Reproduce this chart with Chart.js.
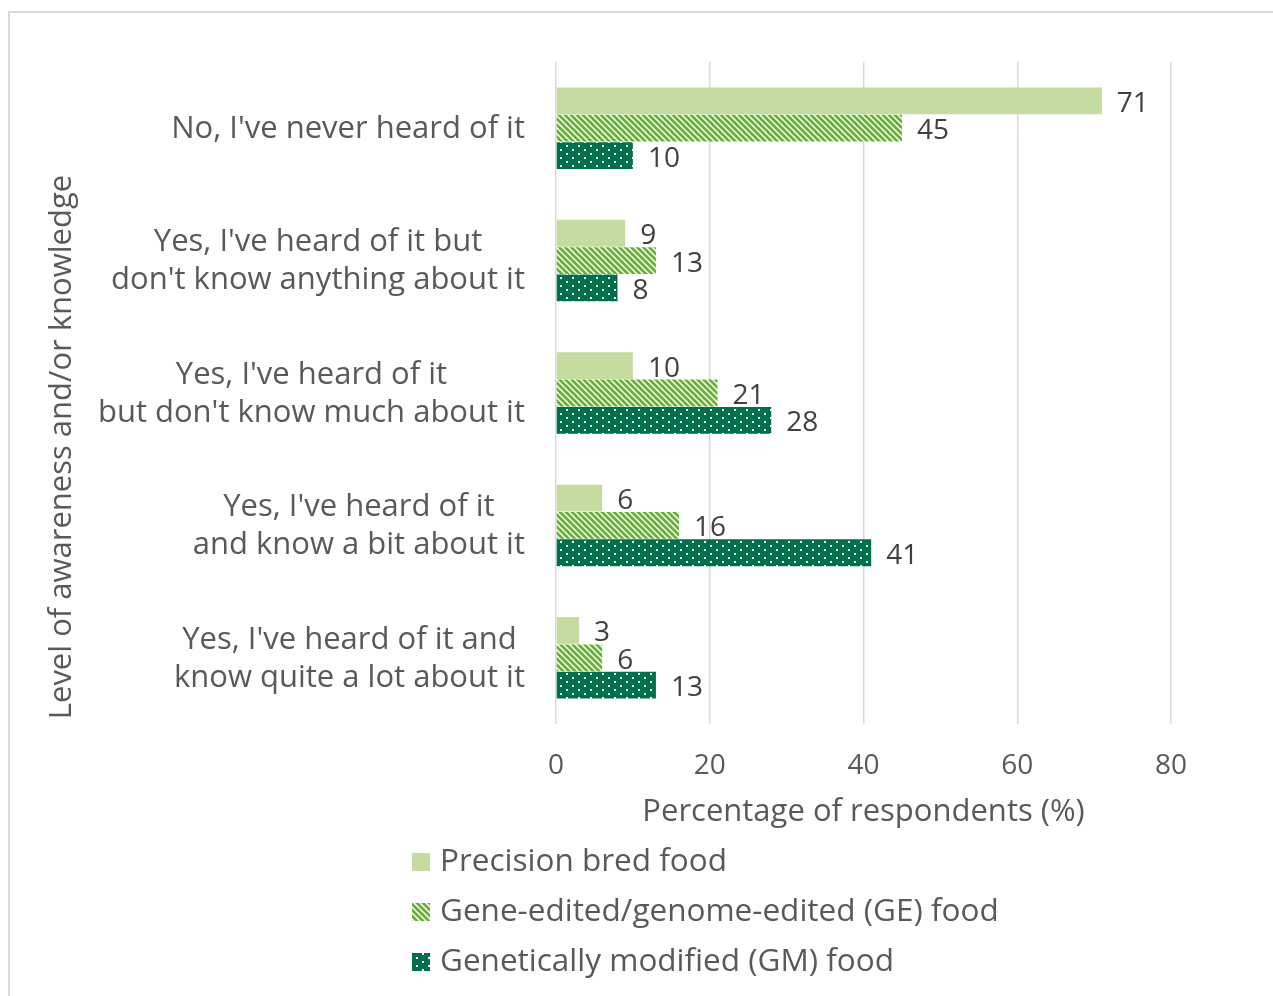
<!DOCTYPE html>
<html>
<head>
<meta charset="utf-8">
<script src="https://cdn.jsdelivr.net/npm/chart.js@4"></script>
<style>
  html, body { margin: 0; padding: 0; background: #fff; overflow: hidden; }
  .frame { position: absolute; left: 8px; top: 11px; width: 1280px; height: 1000px;
           border-top: 2px solid #d9d9d9; border-left: 2px solid #d9d9d9; }
  canvas { position: absolute; left: 0; top: 0; }
</style>
</head>
<body>
<div class="frame"></div>
<canvas id="awareness" width="1273" height="996"></canvas>
<script>
// data
const categories = [
  ["No, I've never heard of it"],
  ["Yes, I've heard of it but", "don't know anything about it"],
  ["Yes, I've heard of it", "but don't know much about it"],
  ["Yes, I've heard of it", "and know a bit about it"],
  ["Yes, I've heard of it and", "know quite a lot about it"],
];
const seriesNames = [
  "Precision bred food",
  "Gene-edited/genome-edited (GE) food",
  "Genetically modified (GM) food",
];
const precisionBred = [71, 9, 10, 6, 3];
const geneEdited = [45, 13, 21, 16, 6];
const genModified = [10, 8, 28, 41, 13];
const xTicks = [0, 20, 40, 60, 80];

const FONT = "'Open Sans', sans-serif";
const TEXT = "#595959";

// Patterns
function hatchPattern() {
  const c = document.createElement("canvas");
  c.width = 6; c.height = 6;
  const g = c.getContext("2d");
  g.fillStyle = "#ffffff";
  g.fillRect(0, 0, 6, 6);
  g.strokeStyle = "#66b032";
  g.lineWidth = 2.7;
  g.beginPath();
  g.moveTo(-3, -3); g.lineTo(9, 9);
  g.moveTo(-3, 3); g.lineTo(3, 9);
  g.moveTo(3, -3); g.lineTo(9, 3);
  g.stroke();
  return g.createPattern(c, "repeat");
}
function dotPattern() {
  const c = document.createElement("canvas");
  c.width = 12; c.height = 8;
  const g = c.getContext("2d");
  g.fillStyle = "#00704a";
  g.fillRect(0, 0, 12, 8);
  g.fillStyle = "#ffffff";
  g.fillRect(2, 1, 2, 2);
  g.fillRect(8, 5, 2, 2);
  return g.createPattern(c, "repeat");
}
const fills = ["#c5dca0", hatchPattern(), dotPattern()];

// Bar labels, category labels, y title, legend
const extras = {
  id: "extras",
  afterDatasetsDraw(chart) {
    const ctx = chart.ctx;
    ctx.save();
    ctx.fillStyle = "#404040";
    ctx.font = "28px " + FONT;
    ctx.textAlign = "left";
    ctx.textBaseline = "middle";
    chart.data.datasets.forEach((ds, i) => {
      chart.getDatasetMeta(i).data.forEach((bar, j) => {
        ctx.fillText(ds.data[j], bar.x + 15, bar.y + 3);
      });
    });
    ctx.restore();
  },
  afterDraw(chart) {
    const ctx = chart.ctx;
    const y = chart.scales.y;
    ctx.save();
    ctx.fillStyle = TEXT;
    ctx.font = "31px " + FONT;
    ctx.textBaseline = "middle";
    ctx.textAlign = "center";
    const right = chart.chartArea.left - 31;
    const lh = 38;
    categories.forEach((lines, i) => {
      const cy = y.getPixelForTick(i) + 1;
      const w = Math.max(...lines.map((l) => ctx.measureText(l).width));
      const cx = right - w / 2;
      lines.forEach((l, k) => {
        ctx.fillText(l, cx, cy + (k - (lines.length - 1) / 2) * lh);
      });
    });

    // y axis title
    ctx.save();
    ctx.translate(62, 447);
    ctx.rotate(-Math.PI / 2);
    ctx.font = "31px " + FONT;
    ctx.fillText("Level of awareness and/or knowledge", 0, 0);
    ctx.restore();

    // legend
    ctx.textAlign = "left";
    ctx.font = "31.5px " + FONT;
    seriesNames.forEach((name, i) => {
      const ly = 862 + i * 50;
      ctx.fillStyle = fills[i];
      ctx.fillRect(412, ly - 9, 18, 18);
      ctx.fillStyle = TEXT;
      ctx.fillText(name, 440, ly);
    });
    ctx.restore();
  },
};

const ctx = document.getElementById("awareness").getContext("2d");
const chart = new Chart(ctx, {
  type: "bar",
  data: {
    labels: categories,
    datasets: [
      { label: seriesNames[0], data: precisionBred, backgroundColor: fills[0] },
      { label: seriesNames[1], data: geneEdited, backgroundColor: fills[1] },
      { label: seriesNames[2], data: genModified, backgroundColor: fills[2] },
    ],
  },
  options: {
    indexAxis: "y",
    responsive: false,
    animation: false,
    devicePixelRatio: 1,
    categoryPercentage: 0.62,
    barPercentage: 0.98,
    layout: { padding: { left: 0, right: 102, top: 62, bottom: 165 } },
    plugins: { legend: { display: false }, tooltip: { enabled: false } },
    scales: {
      x: {
        min: 0,
        max: 80,
        afterBuildTicks: (s) => { s.ticks = xTicks.map((v) => ({ value: v })); },
        grid: { color: "#d9d9d9", lineWidth: 1.5, drawTicks: false },
        border: { display: false },
        ticks: { color: TEXT, font: { family: FONT, size: 28 }, padding: 25 },
        title: {
          display: true,
          text: "Percentage of respondents (%)",
          color: TEXT,
          font: { family: FONT, size: 31 },
          padding: { top: 6, bottom: 0 },
        },
        afterFit: (s) => { s.height = 107; },
      },
      y: {
        grid: { display: false },
        border: { display: false },
        ticks: { display: false },
        afterFit: (s) => { s.width = 556; },
      },
    },
  },
  plugins: [extras],
});
</script>
</body>
</html>
